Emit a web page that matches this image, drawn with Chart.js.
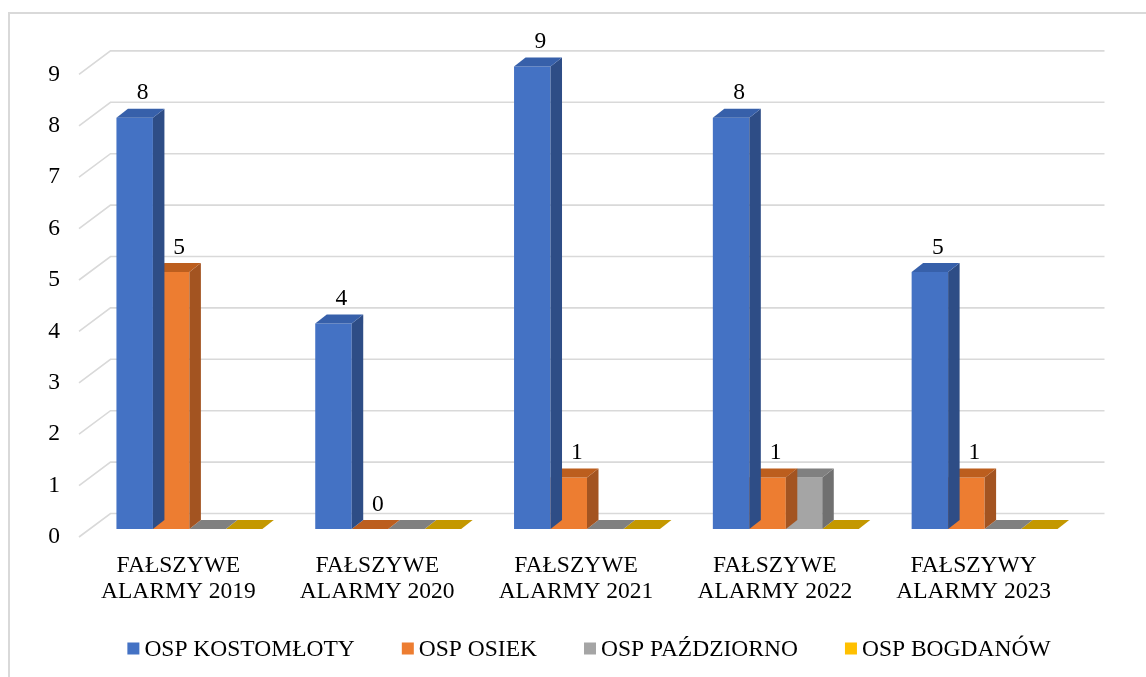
<!DOCTYPE html>
<html>
<head>
<meta charset="utf-8">
<script src="https://cdn.jsdelivr.net/npm/chart.js@4.4.1/dist/chart.umd.min.js"></script>
<style>
    html, body { margin: 0; padding: 0; background: #fff; overflow: hidden; }
    #wrap { width: 1146px; height: 677px; }
</style>
</head>
<body>
<div id="wrap"><canvas id="alarmChart" width="1146" height="677"></canvas></div>
<script>
const FONT = "'Liberation Serif', 'Times New Roman', serif"
const FONT_SIZE = 23.5

const categories = [
    ["FAŁSZYWE", "ALARMY 2019"],
    ["FAŁSZYWE", "ALARMY 2020"],
    ["FAŁSZYWE", "ALARMY 2021"],
    ["FAŁSZYWE", "ALARMY 2022"],
    ["FAŁSZYWY", "ALARMY 2023"]
]
const seriesNames = ["OSP KOSTOMŁOTY", "OSP OSIEK", "OSP PAŹDZIORNO", "OSP BOGDANÓW"]
const kostomlotyValues = [8, 4, 9, 8, 5]
const osiekValues = [5, 0, 1, 1, 1]
const pazdziornoValues = [0, 0, 0, 1, 0]
const bogdanowValues = [0, 0, 0, 0, 0]
const yTicks = [0, 1, 2, 3, 4, 5, 6, 7, 8, 9]

// front / right side / top colour of each series
const faceColors = [
    { front: "#4472C4", side: "#2E4D86", top: "#3760AA" },
    { front: "#ED7D31", side: "#A35421", top: "#BC5E1E" },
    { front: "#A5A5A5", side: "#707070", top: "#808080" },
    { front: "#FFC000", side: "#B08400", top: "#C49800" }
]
// only these series get value labels
const labelledSeries = [0, 1]

// fake perspective: bar depth and the side wall of the floor
const DEPTH = { dx: 11.5, dy: -9 }
const WALL = { frontDx: -11, frontDy: 8, backDx: 20.5, backDy: -15.5 }

const poly = (ctx, pts, color) => {
    ctx.beginPath()
    ctx.moveTo(pts[0][0], pts[0][1])
    pts.slice(1).forEach(p => ctx.lineTo(p[0], p[1]))
    ctx.closePath()
    ctx.fillStyle = color
    ctx.fill()
}

const bars3d = {
    id: "bars3d",
    beforeDraw(chart) {
        const ctx = chart.ctx
        ctx.save()
        ctx.strokeStyle = "#D9D9D9"
        ctx.lineWidth = 2
        ctx.beginPath()
        ctx.moveTo(9, 700)
        ctx.lineTo(9, 13)
        ctx.lineTo(1160, 13)
        ctx.stroke()
        ctx.restore()
    },
    beforeDatasetsDraw(chart) {
        const { ctx, chartArea: area, scales: { y } } = chart
        ctx.save()
        ctx.strokeStyle = "#D9D9D9"
        ctx.lineWidth = 1.6
        yTicks.forEach(v => {
            const yf = y.getPixelForValue(v)
            ctx.beginPath()
            ctx.moveTo(area.left + WALL.frontDx, yf + WALL.frontDy)
            ctx.lineTo(area.left + WALL.backDx, yf + WALL.backDy)
            ctx.lineTo(area.right + WALL.backDx, yf + WALL.backDy)
            ctx.stroke()
        })
        ctx.restore()
    },
    afterDatasetDraw(chart, args) {
        const ctx = chart.ctx
        const colors = faceColors[args.index]
        ctx.save()
        args.meta.data.forEach(bar => {
            const { x, y, base, width } = bar.getProps(["x", "y", "base", "width"], true)
            const left = x - width / 2
            const right = x + width / 2
            const top = Math.min(y, base)
            const { dx, dy } = DEPTH
            if (base - top > 0.5) {
                poly(ctx, [[right, top], [right + dx, top + dy], [right + dx, base + dy], [right, base]], colors.side)
            }
            poly(ctx, [[left, top], [right, top], [right + dx, top + dy], [left + dx, top + dy]], colors.top)
        })
        ctx.restore()
    },
    afterDatasetsDraw(chart) {
        const ctx = chart.ctx
        ctx.save()
        ctx.font = `${FONT_SIZE}px ${FONT}`
        ctx.fillStyle = "#000"
        ctx.textAlign = "center"
        ctx.textBaseline = "alphabetic"
        labelledSeries.forEach(i => {
            const meta = chart.getDatasetMeta(i)
            meta.data.forEach((bar, j) => {
                const value = chart.data.datasets[i].data[j]
                ctx.fillText(String(value), bar.x + 8, bar.y - 18.5)
            })
        })
        ctx.restore()
    },
    afterDraw(chart) {
        // legend row
        const ctx = chart.ctx
        const box = 12, gapText = 5, gapItem = 47, center = 589
        ctx.save()
        ctx.font = `${FONT_SIZE}px ${FONT}`
        const widths = seriesNames.map(n => ctx.measureText(n).width)
        const total = widths.reduce((s, w) => s + box + gapText + w, 0) + gapItem * (seriesNames.length - 1)
        let x = center - total / 2
        ctx.textBaseline = "alphabetic"
        ctx.textAlign = "left"
        seriesNames.forEach((name, i) => {
            ctx.fillStyle = faceColors[i].front
            ctx.fillRect(x, 642.5, box, box)
            ctx.fillStyle = "#000"
            ctx.fillText(name, x + box + gapText, 656)
            x += box + gapText + widths[i] + gapItem
        })
        ctx.restore()
    }
}

const seriesValues = [kostomlotyValues, osiekValues, pazdziornoValues, bogdanowValues]

new Chart(document.getElementById("alarmChart"), {
    type: "bar",
    data: {
        labels: categories,
        datasets: seriesNames.map((name, i) => ({
            label: name,
            data: seriesValues[i],
            backgroundColor: faceColors[i].front,
            borderWidth: 0,
            barPercentage: 1,
            categoryPercentage: 0.734,
            clip: false
        }))
    },
    options: {
        responsive: false,
        devicePixelRatio: 1,
        animation: false,
        layout: { padding: { top: 66.4, right: 62, bottom: 0, left: 0 } },
        plugins: {
            legend: { display: false },
            tooltip: { enabled: false }
        },
        scales: {
            x: {
                grid: { display: false, drawTicks: false },
                border: { display: false },
                ticks: {
                    color: "#000",
                    padding: 24,
                    labelOffset: -11,
                    maxRotation: 0,
                    autoSkip: false,
                    font: { family: FONT, size: FONT_SIZE, lineHeight: 1.1 }
                },
                afterFit: scale => { scale.height = 148 }
            },
            y: {
                min: 0,
                max: 9,
                grid: { display: false, drawTicks: false },
                border: { display: false },
                afterBuildTicks: axis => { axis.ticks = yTicks.map(v => ({ value: v })) },
                ticks: {
                    color: "#000",
                    padding: 30,
                    labelOffset: 8,
                    font: { family: FONT, size: FONT_SIZE }
                },
                afterFit: scale => { scale.width = 90 }
            }
        }
    },
    plugins: [bars3d]
})
</script>
</body>
</html>
